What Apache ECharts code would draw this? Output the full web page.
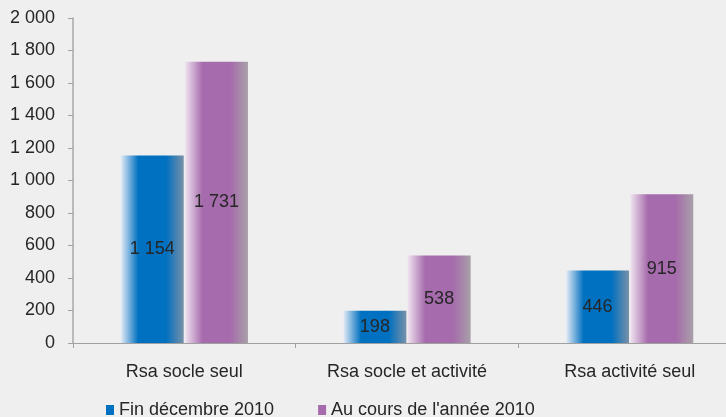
<!DOCTYPE html>
<html><head><meta charset="utf-8">
<script src="https://cdn.jsdelivr.net/npm/echarts@6/dist/echarts.min.js"></script>
<style>html,body{margin:0;padding:0;background:#efefef}#c{width:726px;height:417px}</style>
</head><body><div id="c"></div>
<script>
const categories = ['Rsa socle seul', 'Rsa socle et activité', 'Rsa activité seul'];
const finDecembre = [1154, 198, 446];
const auCoursAnnee = [1731, 538, 915];
const seriesNames = ['Fin décembre 2010', "Au cours de l'année 2010"];

function fmt(v) { return String(v).replace(/\B(?=(\d{3})+(?!\d))/g, ' '); }
function grad(light, main, dark) {
  return new echarts.graphic.LinearGradient(0, 0, 1, 0, [
    {offset: 0, color: light}, {offset: 0.28, color: main},
    {offset: 0.72, color: main}, {offset: 1, color: dark}]);
}
const chart = echarts.init(document.getElementById('c'));
const font = 'Liberation Sans, Arial, sans-serif';
const lbl = {show: true, position: 'inside', color: '#262626', fontSize: 18, fontFamily: font, formatter: p => fmt(p.value)};
chart.setOption({
  backgroundColor: '#efefef',
  animation: false,
  grid: {left: 73, right: -15, top: 18, bottom: 74, containLabel: false, outerBoundsMode: 'none'},
  legend: {
    top: 396, left: 101, icon: 'rect', itemWidth: 8, itemHeight: 10, itemGap: 44,
    textStyle: {fontSize: 18, color: '#262626', fontFamily: font},
    data: [{name: seriesNames[0], itemStyle: {color: '#0070c0'}}, {name: seriesNames[1], itemStyle: {color: '#a66bac'}}]
  },
  xAxis: {
    type: 'category', data: categories,
    axisLine: {lineStyle: {color: '#a0a0a0', width: 1}},
    axisTick: {show: true, length: 5, lineStyle: {color: '#a0a0a0'}},
    axisLabel: {fontSize: 18, color: '#262626', margin: 20, fontFamily: font}
  },
  yAxis: {
    type: 'value', min: 0, max: 2000, interval: 200,
    axisLine: {show: true, lineStyle: {color: '#a8a8a8', width: 1.5}},
    axisTick: {show: true, length: 5, lineStyle: {color: '#a0a0a0'}},
    splitLine: {show: false},
    axisLabel: {fontSize: 18, color: '#262626', margin: 18, fontFamily: font, formatter: v => fmt(v)}
  },
  series: [
    {name: seriesNames[0], type: 'bar', data: finDecembre, barWidth: 63, barGap: '2%',
     itemStyle: {color: grad('#e4ecf6', '#0070c0', '#7890a8')}, label: lbl},
    {name: seriesNames[1], type: 'bar', data: auCoursAnnee, barWidth: 63,
     itemStyle: {color: grad('#f0e4f0', '#a66bac', '#a8a0a8')}, label: lbl}
  ]
});
</script></body></html>
